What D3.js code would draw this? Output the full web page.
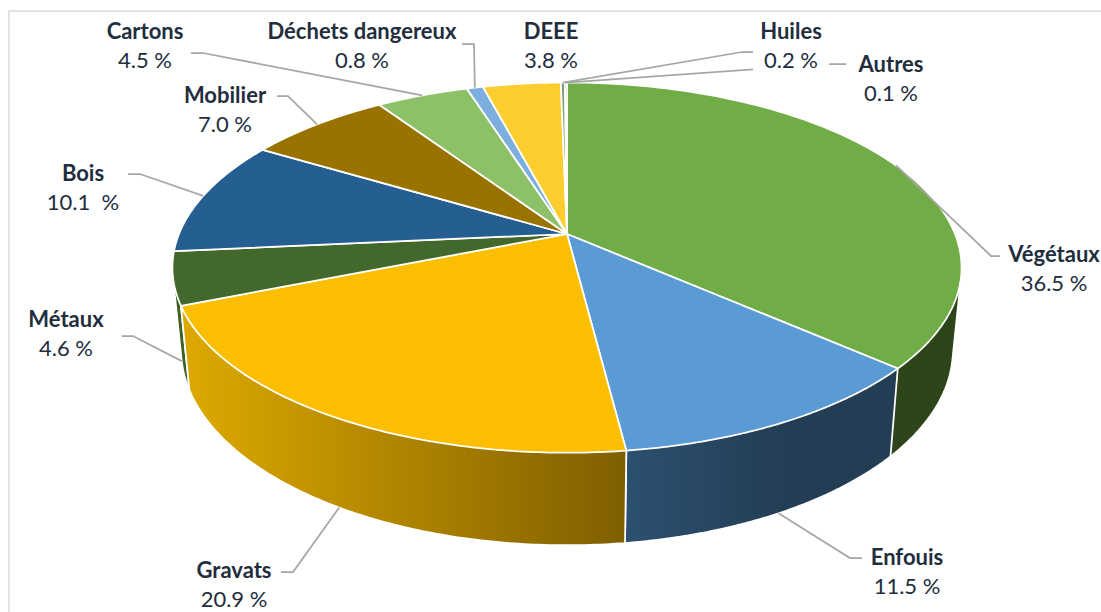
<!DOCTYPE html>
<html>
<head>
<meta charset="utf-8">
<script src="https://cdn.jsdelivr.net/npm/d3@7"></script>
<style>
    html, body { margin: 0; padding: 0; background: #fff; overflow: hidden; }
    text { font-family: Lato, sans-serif; font-size: 22px; fill: #222d3d; text-anchor: middle; white-space: pre; }
    .name { font-weight: 700; }
</style>
</head>
<body>
<svg id="drawing_region"></svg>
<script>
// values in percent, clockwise from the top of the pie
const categories = ['Végétaux', 'Enfouis', 'Gravats', 'Métaux', 'Bois', 'Mobilier', 'Cartons',
    'Déchets dangereux', 'DEEE', 'Huiles', 'Autres'];
const values = [36.5, 11.5, 20.9, 4.6, 10.1, 7.0, 4.5, 0.8, 3.8, 0.2, 0.1];
const valueLabels = ['36.5 %', '11.5 %', '20.9 %', '4.6 %', '10.1  %', '7.0 %', '4.5 %', '0.8 %', '3.8 %', '0.2 %', '0.1 %'];
const topColors = ['#70ad47', '#5b9bd5', '#fbbe00', '#43682b', '#255e91', '#997300', '#8cc168',
    '#7cafdd', '#fbcd2f', '#7f9f72', '#6f8a5f'];

// label centre [x, name baseline] and elbow points of the leader, starting next to the label
const labelPos = [[1054, 262], [907, 565], [234, 578], [66, 327], [83, 181], [225, 103], [145, 39], [362, 39], [551, 39], [791, 39], [891, 72]];
const leaderElbows = [
    [[1000, 256], [991, 256]],
    [[862, 558], [850, 558]],
    [[281, 572], [293, 572]],
    [[122, 336], [133, 336]],
    [[128, 174], [140, 174]],
    [[277, 96], [288, 96]],
    [[191, 53], [203, 53]],
    [[462, 44], [474, 44]],
    null,
    [[753, 52], [742, 52]],
    [[846, 64], [832, 64]]
];

const width = 1101, height = 612;
const svg = d3.select('#drawing_region').attr('width', width).attr('height', height);

// chart frame, runs off the right and bottom of the page
svg.append('path')
    .attr('d', `M9,${height + 5}V11H${width + 5}`)
    .attr('fill', 'none').attr('stroke', '#dcdcdc').attr('stroke-width', 1.5);

// perspective view of the pie: unit circle on the top face -> screen
const cx = 567, cy = 234, sx = 388, sy = 179, persp = 0.1816;
const project = (a, r = 1) => {
    const u = r * Math.sin(a), v = -r * Math.cos(a), w = 1 - persp * v;
    return [cx + sx * u / w, cy + sy * v / w];
};
// same point on the lower rim
const lower = p => [cx + (p[0] - cx) * 0.978, p[1] + 84.5 + (p[1] - 307) * 0.055];

const pie = d3.pie().sort(null).value(d => d)(values);
const line = d3.line();
const rim = (a0, a1) => d3.range(0, 121).map(i => project(a0 + (a1 - a0) * i / 120));

// side gradients
const defs = svg.append('defs');
const gradient = (id, x1, x2, c1, c2) => {
    const g = defs.append('linearGradient').attr('id', id)
        .attr('gradientUnits', 'userSpaceOnUse').attr('x1', x1).attr('x2', x2).attr('y1', 0).attr('y2', 0);
    g.append('stop').attr('offset', 0).attr('stop-color', c1);
    g.append('stop').attr('offset', 1).attr('stop-color', c2);
};
gradient('sideGravats', 190, 625, '#dca800', '#7f5f00');
gradient('sideEnfouis', 625, 790, '#2c5070', '#233d54');
const sideFill = ['#2d4519', 'url(#sideEnfouis)', 'url(#sideGravats)', '#3f6026'];

// only the first four slices show a side, hull gives the straight silhouette of the cylinder
svg.append('g').selectAll('path')
    .data([pie[0], pie[3], pie[1], pie[2]])
    .join('path')
    .attr('d', d => {
        const pts = rim(d.startAngle, d.endAngle);
        return line(d3.polygonHull(pts.concat(pts.map(lower)))) + 'Z';
    })
    .attr('fill', d => sideFill[d.index])
    .attr('stroke', '#fff').attr('stroke-width', 1.75).attr('stroke-linejoin', 'round');

// top face
svg.append('g').selectAll('path')
    .data(pie)
    .join('path')
    .attr('d', d => line([[cx, cy]].concat(rim(d.startAngle, d.endAngle))) + 'Z')
    .attr('fill', (d, i) => topColors[i])
    .attr('stroke', '#fff').attr('stroke-width', 1.75).attr('stroke-linejoin', 'round');

// leaders: lower half of the pie is tied to the lower rim
svg.append('g').selectAll('path')
    .data(pie.filter((d, i) => leaderElbows[i]))
    .join('path')
    .attr('d', d => {
        const mid = (d.startAngle + d.endAngle) / 2;
        const p = project(mid);
        const end = Math.cos(mid) < 0 ? lower(p) : p;
        return line(leaderElbows[d.index].concat([end]));
    })
    .attr('fill', 'none').attr('stroke', '#a6a6a6').attr('stroke-width', 1.75);

// labels, each with a white box that hides leaders passing behind it
const labels = svg.append('g').selectAll('g')
    .data(categories)
    .join('g')
    .attr('transform', (d, i) => `translate(${labelPos[i]})`);
labels.filter(d => d === 'Huiles').append('rect')
    .attr('x', -38).attr('y', 12).attr('width', 76).attr('height', 30).attr('fill', '#fff');
labels.append('text').attr('class', 'name').text(d => d);
labels.append('text').attr('y', 29).text((d, i) => valueLabels[i]);
</script>
</body>
</html>
